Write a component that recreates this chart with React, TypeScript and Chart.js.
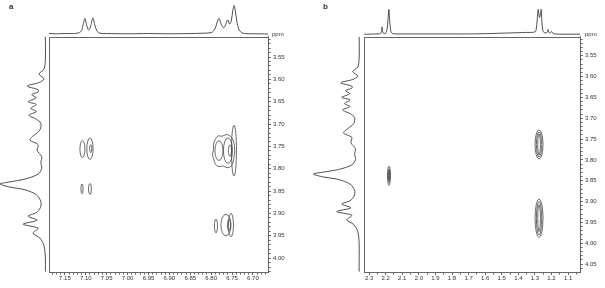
import React, { useEffect, useRef } from "react";
import { Chart, registerables } from "chart.js";

Chart.register(...registerables);

type Pt = [number, number];

const FONT = "'Liberation Sans', Arial, sans-serif";

// ---------- Panel a ----------
// top projection: [ppm, intensity]
const A_TOP: Pt[] = [
  [7.188, 0.02], [7.17, 0.01], [7.15, 0.02], [7.13, 0.02], [7.118, 0.04], [7.11, 0.12],
  [7.106, 0.35], [7.102, 0.55], [7.098, 0.32], [7.093, 0.14], [7.088, 0.3], [7.083, 0.57],
  [7.078, 0.3], [7.073, 0.1], [7.066, 0.03], [7.05, 0.02], [7.0, 0.01], [6.95, 0.02],
  [6.9, 0.01], [6.85, 0.02], [6.82, 0.03], [6.8, 0.05], [6.795, 0.1], [6.789, 0.25],
  [6.785, 0.45], [6.781, 0.55], [6.776, 0.35], [6.77, 0.22], [6.765, 0.35], [6.76, 0.5],
  [6.756, 0.35], [6.752, 0.45], [6.748, 0.85], [6.745, 1.0], [6.742, 0.8], [6.738, 0.4],
  [6.733, 0.15], [6.727, 0.05], [6.72, 0.02], [6.7, 0.01], [6.68, 0.01], [6.664, 0.0],
];

// side projection (shared by both panels): [ppm, intensity]
const LEFT_SPEC: Pt[] = [
  [3.505, 0], [3.555, 0.0], [3.577, 0.03], [3.588, 0.14], [3.599, 0.03], [3.607, 0.14],
  [3.615, 0.4], [3.623, 0.16], [3.628, 0.16], [3.634, 0.3], [3.641, 0.2], [3.65, 0.38],
  [3.656, 0.2], [3.665, 0.32], [3.672, 0.2], [3.68, 0.36], [3.689, 0.2], [3.698, 0.1],
  [3.713, 0.12], [3.735, 0.34], [3.746, 0.16], [3.759, 0.18], [3.773, 0.08], [3.786, 0.1],
  [3.799, 0.08], [3.812, 0.16], [3.823, 0.45], [3.83, 0.82], [3.834, 1.0], [3.841, 0.78],
  [3.847, 0.45], [3.858, 0.2], [3.873, 0.1], [3.887, 0.11], [3.898, 0.2], [3.906, 0.38],
  [3.915, 0.18], [3.924, 0.49], [3.933, 0.16], [3.944, 0.27], [3.955, 0.12], [3.972, 0.03],
  [4.0, 0.0], [4.03, 0.0], [4.068, 0.0],
];

// elliptical contours: [centre F2 ppm, centre F1 ppm, half-width ppm, half-height ppm]
const A_CONTOURS: number[][] = [
  [7.108, 3.756, 0.006, 0.019],
  [7.09, 3.755, 0.0075, 0.024],
  [7.088, 3.755, 0.0025, 0.009],
  [7.109, 3.845, 0.0025, 0.011],
  [7.09, 3.845, 0.0035, 0.012],
  [6.7454, 3.7594, 0.006, 0.057],
  [6.7813, 3.7594, 0.0096, 0.022],
  [6.7598, 3.7594, 0.0108, 0.0285],
  [6.755, 3.7594, 0.0036, 0.013],
  [6.7885, 3.928, 0.0036, 0.0154],
  [6.7646, 3.926, 0.012, 0.024],
  [6.7526, 3.926, 0.006, 0.026],
  [6.7574, 3.926, 0.0036, 0.013],
];

// irregular outer contour of the 6.76 / 3.76 cross peak: [F2 ppm, F1 ppm]
const A_OUTER: Pt[] = [
  [6.7646, 3.7221], [6.7741, 3.7287], [6.7837, 3.7243], [6.7909, 3.7353], [6.7957, 3.7462],
  [6.7933, 3.7572], [6.7981, 3.7682], [6.7933, 3.7791], [6.7909, 3.7901], [6.7813, 3.7967],
  [6.7718, 3.7923], [6.7622, 3.7989], [6.7502, 3.7945], [6.7454, 3.7769], [6.743, 3.7594],
  [6.7454, 3.7397], [6.7526, 3.7265],
];

// ---------- Panel b ----------
const B_TOP: Pt[] = [
  [2.33, 0.01], [2.3, 0.01], [2.26, 0.02], [2.24, 0.02], [2.232, 0.03], [2.226, 0.12],
  [2.222, 0.3], [2.218, 0.1], [2.21, 0.03], [2.2, 0.05], [2.192, 0.2], [2.186, 0.6],
  [2.181, 1.0], [2.176, 0.55], [2.17, 0.15], [2.16, 0.04], [2.14, 0.02], [2.1, 0.02],
  [2.0, 0.02], [1.9, 0.02], [1.8, 0.02], [1.7, 0.02], [1.6, 0.03], [1.5, 0.05],
  [1.45, 0.06], [1.4, 0.07], [1.35, 0.08], [1.32, 0.08], [1.3, 0.1], [1.292, 0.2],
  [1.286, 0.6], [1.28, 1.0], [1.274, 0.7], [1.271, 0.68], [1.266, 0.85], [1.262, 1.0],
  [1.258, 0.5], [1.252, 0.15], [1.244, 0.07], [1.232, 0.06], [1.224, 0.1], [1.22, 0.2],
  [1.216, 0.08], [1.206, 0.06], [1.2, 0.12], [1.196, 0.1], [1.19, 0.04], [1.18, 0.02],
  [1.15, 0.01], [1.1, 0.01], [1.028, 0.01],
];

const B_CONTOURS: number[][] = [
  [2.18, 3.838, 0.009, 0.023],
  [2.18, 3.838, 0.005, 0.016],
  [2.18, 3.838, 0.002, 0.01],
  [1.275, 3.763, 0.024, 0.035],
  [1.275, 3.763, 0.016, 0.03],
  [1.275, 3.763, 0.008, 0.025],
  [1.275, 3.94, 0.024, 0.046],
  [1.275, 3.94, 0.016, 0.04],
  [1.275, 3.94, 0.008, 0.032],
];

interface PanelCfg {
  letter: string;
  top: Pt[];
  left: Pt[];
  contours: number[][];
  outlines: Pt[][];
  xMin: number; xMax: number; xStep: number; xMajor: number; xDec: number;
  yMin: number; yMax: number;
  leftMin: number; leftMax: number;
  topMin: number; topMax: number;
  leftW: number; mainW: number; topH: number; mainH: number;
  yAxisW: number; xAxisH: number;
  ppmTopDx: number; ppmBotDx: number;
  letterX: number; letterY: number;
}

const PANEL_A: PanelCfg = {
  letter: "a", top: A_TOP, left: LEFT_SPEC, contours: A_CONTOURS, outlines: [A_OUTER],
  xMin: 6.664, xMax: 7.188, xStep: 0.01, xMajor: 5, xDec: 2,
  yMin: 3.505, yMax: 4.031,
  leftMin: -0.08, leftMax: 1.0, topMin: -0.1, topMax: 1.0,
  leftW: 49, mainW: 219, topH: 32, mainH: 240, yAxisW: 34, xAxisH: 16,
  ppmTopDx: 4, ppmBotDx: 2, letterX: 9, letterY: 7,
};

const PANEL_B: PanelCfg = {
  letter: "b", top: B_TOP, left: LEFT_SPEC, contours: B_CONTOURS, outlines: [],
  xMin: 1.028, xMax: 2.33, xStep: 0.05, xMajor: 10, xDec: 1,
  yMin: 3.505, yMax: 4.069,
  leftMin: -0.109, leftMax: 1.217, topMin: -0.1, topMax: 1.15,
  leftW: 61, mainW: 217, topH: 32, mainH: 240, yAxisW: 25, xAxisH: 16,
  ppmTopDx: 5, ppmBotDx: 7, letterX: 21, letterY: 7,
};

function buildConfig(p: PanelCfg): any {
  const tickFont = { family: FONT, size: 6 };
  const lineDs = (pts: Pt[], xAxisID: string, yAxisID: string, swap: boolean) => ({
    data: pts.map(([a, b]) => (swap ? { x: b, y: a } : { x: a, y: b })),
    xAxisID, yAxisID,
    showLine: true, pointRadius: 0, borderColor: "#3c3c3c", borderWidth: 0.9,
    tension: 0.3, fill: false, clip: false,
  });
  const leftPts = p.left.filter(([ppm]) => ppm <= p.yMax);

  const overlay = {
    id: "overlay" + p.letter,
    afterDraw(chart: any) {
      const { ctx } = chart;
      const xs = chart.scales.xMain, ys = chart.scales.yMain, yt = chart.scales.yTop;
      ctx.save();
      ctx.strokeStyle = "#666"; ctx.lineWidth = 1;
      const lx = Math.round(xs.left) + 0.5, ty = Math.round(ys.top) + 0.5;
      ctx.beginPath();
      ctx.moveTo(lx, ys.bottom); ctx.lineTo(lx, ty); ctx.lineTo(xs.right, ty);
      ctx.stroke();
      ctx.strokeStyle = "#454545"; ctx.lineWidth = 0.8;
      for (const [cx, cy, rx, ry] of p.contours) {
        const px = xs.getPixelForValue(cx), py = ys.getPixelForValue(cy);
        const prx = Math.abs(xs.getPixelForValue(cx + rx) - px);
        const pry = Math.abs(ys.getPixelForValue(cy + ry) - py);
        ctx.beginPath(); ctx.ellipse(px, py, prx, pry, 0, 0, Math.PI * 2); ctx.stroke();
      }
      for (const poly of p.outlines) {
        const pts = poly.map(([a, b]) => [xs.getPixelForValue(a), ys.getPixelForValue(b)]);
        const n = pts.length;
        const mid = (i: number) => {
          const a = pts[i % n], b = pts[(i + 1) % n];
          return [(a[0] + b[0]) / 2, (a[1] + b[1]) / 2];
        };
        ctx.beginPath();
        const m0 = mid(0);
        ctx.moveTo(m0[0], m0[1]);
        for (let i = 1; i <= n; i++) {
          const c = pts[i % n], m = mid(i);
          ctx.quadraticCurveTo(c[0], c[1], m[0], m[1]);
        }
        ctx.closePath();
        ctx.stroke();
      }
      ctx.fillStyle = "#333"; ctx.font = `6px ${FONT}`;
      ctx.textAlign = "left"; ctx.textBaseline = "middle";
      ctx.fillText("ppm", xs.right + p.ppmTopDx, yt.getPixelForValue(0));
      ctx.fillText("ppm", xs.right + p.ppmBotDx, xs.bottom + 6);
      ctx.font = `bold 8px ${FONT}`;
      ctx.fillText(p.letter, p.letterX, p.letterY);
      ctx.restore();
    },
  };

  const majorOf = (v: number, m: number) => Math.round(v * 100) % m === 0;
  const makeGrid = (m: number) => ({
    display: true, drawOnChartArea: false, drawTicks: true, tickLength: 3,
    tickColor: "#666", color: "#666",
    tickBorderDash: (c: any) => (c.tick && majorOf(c.tick.value, m) ? [] : [1.6, 6]),
  });
  const border = { display: true, color: "#666", width: 1 };

  return {
    type: "scatter",
    data: {
      datasets: [lineDs(p.top, "xMain", "yTop", false), lineDs(leftPts, "xLeft", "yMain", true)],
    },
    options: {
      animation: false, responsive: false, maintainAspectRatio: false, events: [],
      layout: { padding: 0 },
      plugins: { legend: { display: false }, tooltip: { enabled: false } },
      scales: {
        xLeft: {
          type: "linear", position: "bottom", stack: "h", stackWeight: p.leftW, display: false,
          reverse: true, min: p.leftMin, max: p.leftMax,
          afterFit: (s: any) => { s.height = p.xAxisH; },
        },
        xMain: {
          type: "linear", position: "bottom", stack: "h", stackWeight: p.mainW, reverse: true, min: p.xMin, max: p.xMax,
          ticks: {
            stepSize: p.xStep, autoSkip: false, maxRotation: 0, minRotation: 0, includeBounds: false,
            font: tickFont, color: "#333", padding: 0,
            callback: (v: any) => {
              const n = Math.round(Number(v) * 100);
              return n % p.xMajor === 0 ? (n / 100).toFixed(p.xDec) : "";
            },
          },
          grid: makeGrid(p.xMajor), border,
          afterFit: (s: any) => { s.height = p.xAxisH; },
        },
        yTop: {
          type: "linear", position: "right", stack: "v", stackWeight: p.topH, display: false,
          min: p.topMin, max: p.topMax,
          afterFit: (s: any) => { s.width = p.yAxisW; },
        },
        yMain: {
          type: "linear", position: "right", stack: "v", stackWeight: p.mainH, reverse: true, min: p.yMin, max: p.yMax,
          ticks: {
            stepSize: 0.01, autoSkip: false, includeBounds: false, font: tickFont, color: "#333", padding: 2,
            callback: (v: any) => {
              const n = Math.round(Number(v) * 100);
              return n % 5 === 0 ? (n / 100).toFixed(2) : "";
            },
          },
          grid: makeGrid(5), border,
          afterFit: (s: any) => { s.width = p.yAxisW; },
        },
      },
    },
    plugins: [overlay],
  };
}

function Panel({ cfg, left, width }: { cfg: PanelCfg; left: number; width: number }) {
  const ref = useRef<HTMLCanvasElement>(null);
  useEffect(() => {
    const chart = new Chart(ref.current as HTMLCanvasElement, buildConfig(cfg));
    return () => chart.destroy();
  }, [cfg]);
  return (
    <canvas
      ref={ref}
      width={width}
      height={288}
      style={{ position: "absolute", left, top: 0, width, height: 288 }}
    />
  );
}

export default function App() {
  return (
    <div style={{ position: "absolute", left: 0, top: 0, width: 605, height: 288, background: "#fff" }}>
      <Panel cfg={PANEL_A} left={0} width={302} />
      <Panel cfg={PANEL_B} left={302} width={303} />
    </div>
  );
}
